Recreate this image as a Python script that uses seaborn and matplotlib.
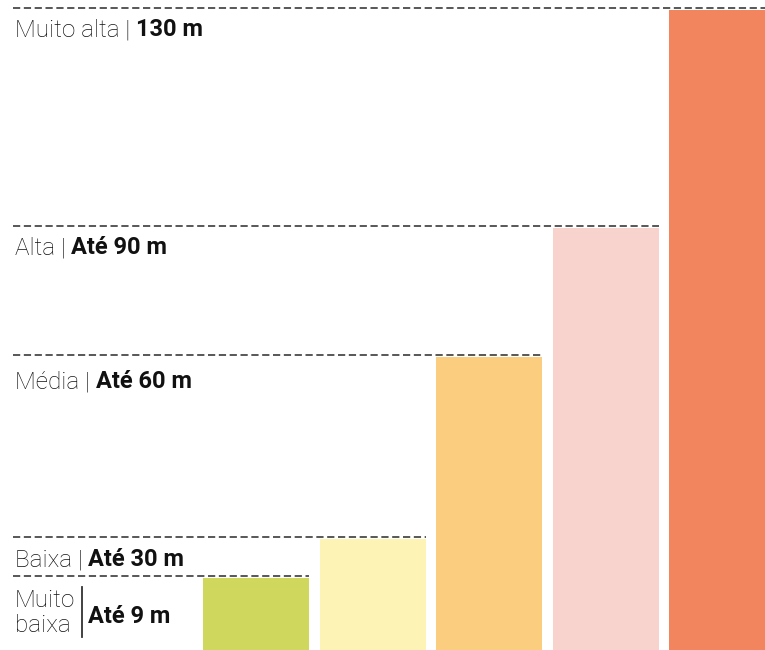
import pandas as pd
import seaborn as sns
import matplotlib.pyplot as plt

# risk classes, labelled heights and bar heights as drawn (illustrative, not to scale)
classes = ["Muito baixa", "Baixa", "Média", "Alta", "Muito alta"]
names = ["Muito\nbaixa", "Baixa | ", "Média | ", "Alta | ", "Muito alta | "]
values = ["Até 9 m", "Até 30 m", "Até 60 m", "Até 90 m", "130 m"]
heights = [72, 111, 293, 422, 640]
colors = ["#CFD75C", "#FDF3B5", "#FBCD7E", "#F8D3CD", "#F2845E"]

df = pd.DataFrame({"classe": classes, "altura": heights})

fig = plt.figure(figsize=(7.65, 6.5), dpi=100)
ax = fig.add_axes([0, 0, 1, 1])
sns.barplot(data=df, x="classe", y="altura", hue="classe", palette=colors,
            width=0.909, legend=False, ax=ax, saturation=1)
ax.set_xlim(-2.196, 4.365)
ax.set_ylim(0, 650)
ax.axis("off")

font = ["Roboto", "DejaVu Sans"]
x_left = -2.085   # about 13 px from the left edge
x_text = -2.067
px = 6.561 / 765  # data units per pixel on x
drop = [0, 29, 33, 28, 28]  # label baseline below the dashed line, px

for i, h in enumerate(heights):
    right = i + 0.909 / 2
    ax.plot([x_left, right], [h + 2, h + 2], ls=(0, (4, 2)), color="#4a4a4a", lw=1.3)

fig.canvas.draw()
r = fig.canvas.get_renderer()
inv = ax.transData.inverted()

for i, h in enumerate(heights):
    if i == 0:
        first, second = names[i].split("\n")
        ax.text(x_text, 43, first, fontsize=17.5, fontweight="light",
                family=font, color="#111111", va="baseline")
        ax.text(x_text, 18, second, fontsize=17.5, fontweight="light",
                family=font, color="#111111", va="baseline")
        ax.plot([x_text + 67 * px, x_text + 67 * px], [13, 63], color="#333333", lw=1.3)
        ax.text(x_text + 73 * px, 27, values[i], fontsize=17, fontweight="bold",
                family=font, color="#111111", va="baseline")
        continue
    y = h + 2 - drop[i]
    t1 = ax.text(x_text, y, names[i], fontsize=17.5, fontweight="light",
                 family=font, color="#111111", va="baseline")
    bb = t1.get_window_extent(renderer=r)
    xe = inv.transform((bb.x1, bb.y0))[0]
    ax.text(xe, y, values[i], fontsize=17, fontweight="bold",
            family=font, color="#111111", va="baseline")

fig.savefig("out.png", dpi=100)
